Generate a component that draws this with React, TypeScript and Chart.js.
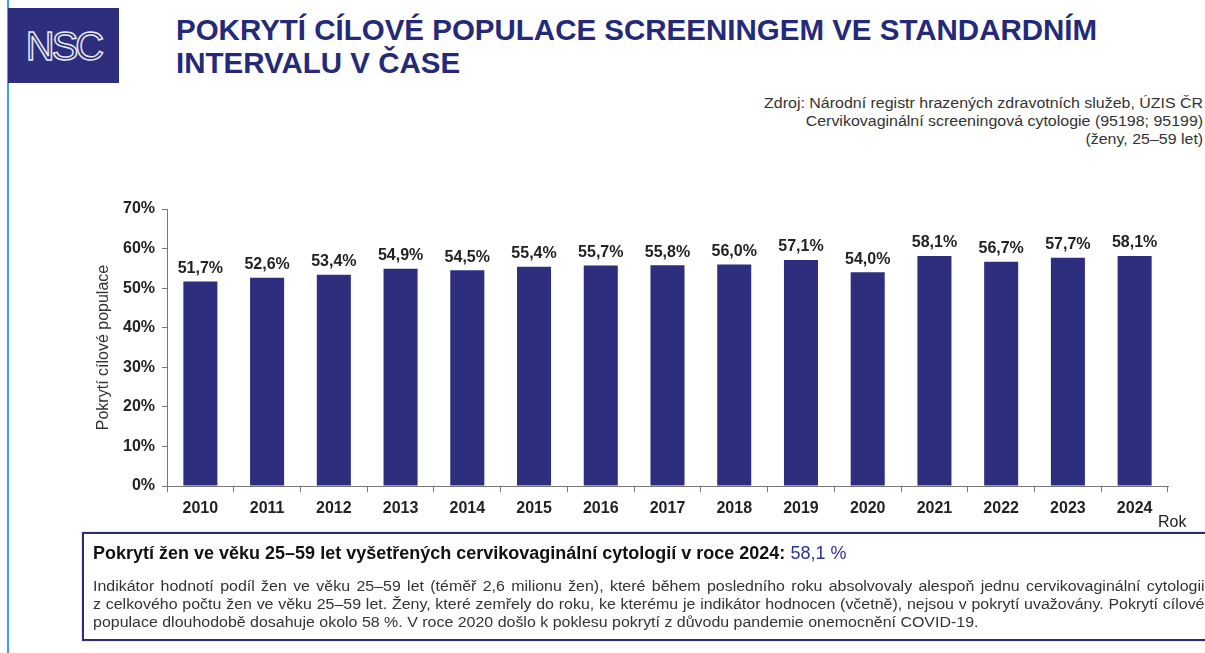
import React, { useEffect, useRef } from "react";
import { Chart, registerables } from "chart.js";

Chart.register(...registerables);

const years = ["2010", "2011", "2012", "2013", "2014", "2015", "2016", "2017", "2018", "2019", "2020", "2021", "2022", "2023", "2024"];
const coverage = [51.7, 52.6, 53.4, 54.9, 54.5, 55.4, 55.7, 55.8, 56.0, 57.1, 54.0, 58.1, 56.7, 57.7, 58.1];
const yTicks = [0, 10, 20, 30, 40, 50, 60, 70];

const FONT = "'Liberation Sans', Arial, Helvetica, sans-serif";
const NAVY = "#2d2f7e";

const valueLabels = {
  id: "valueLabels",
  afterDatasetsDraw(chart: any) {
    const ctx = chart.ctx;
    const meta = chart.getDatasetMeta(0);
    ctx.save();
    ctx.font = `bold 16px ${FONT}`;
    ctx.fillStyle = "#222";
    ctx.textAlign = "center";
    ctx.textBaseline = "bottom";
    meta.data.forEach((bar: any, i: number) => {
      const v = chart.data.datasets[0].data[i] as number;
      ctx.fillText(v.toFixed(1).replace(".", ",") + "%", bar.x, bar.y - 5);
    });
    ctx.restore();
  },
};

export default function App() {
  const ref = useRef<HTMLCanvasElement>(null);
  useEffect(() => {
    if (!ref.current) return;
    const chart = new Chart(ref.current, {
      type: "bar",
      data: {
        labels: years,
        datasets: [
          {
            data: coverage,
            backgroundColor: NAVY,
            borderWidth: 0,
            categoryPercentage: 1,
            barPercentage: 0.51,
          },
        ],
      },
      options: {
        animation: false,
        responsive: false,
        devicePixelRatio: 1,
        layout: { padding: { left: 94, right: 37, top: 209, bottom: 127 } },
        plugins: { legend: { display: false }, tooltip: { enabled: false } },
        scales: {
          x: {
            afterFit: (s: any) => {
              s.height = 40;
            },
            grid: { drawOnChartArea: false, drawTicks: true, tickLength: 6, color: "#777", offset: true },
            border: { color: "#777", width: 1 },
            ticks: { font: { family: FONT, size: 16, weight: "bold" }, color: "#222", padding: 7 },
          },
          y: {
            min: 0,
            max: 70,
            afterFit: (s: any) => {
              s.width = 73;
            },
            afterBuildTicks: (s: any) => {
              s.ticks = yTicks.map((v) => ({ value: v }));
            },
            grid: { drawOnChartArea: false, drawTicks: true, tickLength: 5, color: "#777" },
            border: { color: "#777", width: 1 },
            ticks: {
              font: { family: FONT, size: 16, weight: "bold" },
              color: "#222",
              padding: 7,
              callback: (v: any) => v + "%",
            },
            title: {
              display: true,
              text: "Pokrytí cílové populace",
              font: { family: FONT, size: 16 },
              color: "#333",
              padding: { top: 0, bottom: 0 },
            },
          },
        },
      },
      plugins: [valueLabels],
    });
    return () => chart.destroy();
  }, []);

  return (
    <div
      style={{
        position: "absolute",
        left: 0,
        top: 0,
        width: 1205,
        height: 653,
        overflow: "hidden",
        background: "#fff",
        fontFamily: FONT,
      }}
    >
      <div style={{ position: "absolute", left: 7, top: 0, width: 2, height: 653, background: "#3aa3e3" }} />
      <div
        style={{
          position: "absolute",
          left: 8,
          top: 8,
          width: 111,
          height: 75,
          background: NAVY,
          display: "flex",
          alignItems: "center",
          justifyContent: "center",
        }}
      >
        <span
          style={{
            fontFamily: FONT,
            fontSize: 40,
            letterSpacing: -3,
            color: NAVY,
            WebkitTextStroke: "1.5px #e8e8f0",
            lineHeight: 1,
          }}
        >
          NSC
        </span>
      </div>
      <div
        style={{
          position: "absolute",
          left: 176,
          top: 13,
          fontSize: 29.5,
          fontWeight: "bold",
          color: "#252a78",
          lineHeight: "33px",
          whiteSpace: "nowrap",
        }}
      >
        POKRYTÍ CÍLOVÉ POPULACE SCREENINGEM VE STANDARDNÍM
        <br />
        INTERVALU V ČASE
      </div>
      <div
        style={{
          position: "absolute",
          right: 2,
          top: 94,
          fontSize: 14,
          color: "#333",
          lineHeight: "18px",
          textAlign: "right",
          whiteSpace: "nowrap",
          transform: "scaleX(1.14)",
          transformOrigin: "right top",
        }}
      >
        Zdroj: Národní registr hrazených zdravotních služeb, ÚZIS ČR
        <br />
        Cervikovaginální screeningová cytologie (95198; 95199)
        <br />
        (ženy, 25–59 let)
      </div>
      <canvas ref={ref} width={1205} height={653} style={{ position: "absolute", left: 0, top: 0 }} />
      <div style={{ position: "absolute", left: 1158, top: 513, fontSize: 16, color: "#222" }}>Rok</div>
      <div
        style={{
          position: "absolute",
          left: 82,
          top: 532,
          width: 1160,
          height: 105,
          border: "2px solid #2a2d6e",
          boxShadow: "0 0 1px #888",
        }}
      >
        <div style={{ position: "absolute", left: 9, top: 9, fontSize: 18, fontWeight: "bold", color: "#111", whiteSpace: "nowrap" }}>
          Pokrytí žen ve věku 25–59 let vyšetřených cervikovaginální cytologií v roce 2024:{" "}
          <span style={{ color: "#2e3190", fontWeight: "normal" }}>58,1 %</span>
        </div>
        <div
          style={{
            position: "absolute",
            left: 9,
            top: 43,
            width: 975,
            fontSize: 14,
            lineHeight: "18px",
            color: "#333",
            transform: "scaleX(1.14)",
            transformOrigin: "left top",
          }}
        >
          <div style={{ textAlign: "justify", textAlignLast: "justify" as any, whiteSpace: "nowrap" as any }}>
            Indikátor hodnotí podíl žen ve věku 25–59 let (téměř 2,6 milionu žen), které během posledního roku absolvovaly alespoň jednu cervikovaginální cytologii
          </div>
          <div style={{ textAlign: "justify", textAlignLast: "justify" as any }}>
            z celkového počtu žen ve věku 25–59 let. Ženy, které zemřely do roku, ke kterému je indikátor hodnocen (včetně), nejsou v pokrytí uvažovány. Pokrytí cílové
          </div>
          <div style={{ whiteSpace: "nowrap" }}>
            populace dlouhodobě dosahuje okolo 58 %. V roce 2020 došlo k poklesu pokrytí z důvodu pandemie onemocnění COVID-19.
          </div>
        </div>
      </div>
    </div>
  );
}
